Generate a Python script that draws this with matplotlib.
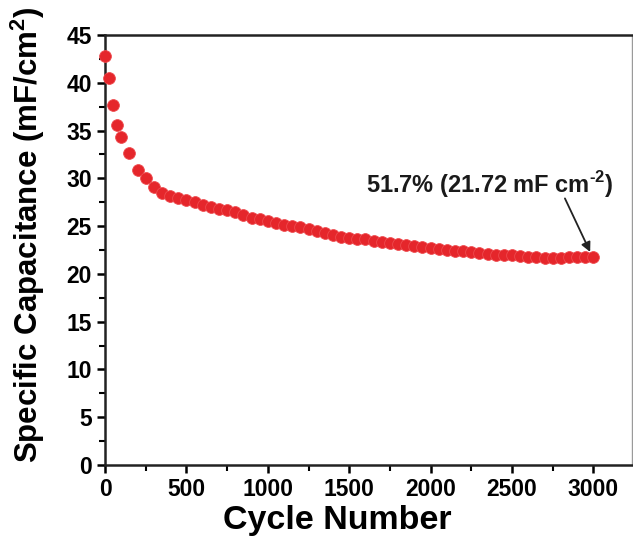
import matplotlib
matplotlib.use('Agg')
import matplotlib.pyplot as plt
from matplotlib.ticker import MultipleLocator

cycles = [1, 25, 50, 75, 100] + list(range(150, 3001, 50))
capacitance = [42.8, 40.5, 37.7, 35.6, 34.3,
               32.6, 30.9, 30.0, 29.1, 28.5, 28.2, 27.9, 27.7, 27.5, 27.2,
               27.0, 26.8, 26.7, 26.5, 26.2, 25.9, 25.7, 25.5, 25.3, 25.1,
               25.0, 24.9, 24.7, 24.5, 24.3, 24.1, 23.9, 23.8, 23.7, 23.6,
               23.4, 23.3, 23.2, 23.1, 23.0, 22.9, 22.8, 22.7, 22.6, 22.5,
               22.4, 22.35, 22.3, 22.2, 22.1, 22.0, 22.0, 21.95, 21.9, 21.8,
               21.75, 21.7, 21.65, 21.7, 21.72, 21.75, 21.72, 21.72]
x_ticks = [0, 500, 1000, 1500, 2000, 2500, 3000]
y_ticks = [0, 5, 10, 15, 20, 25, 30, 35, 40, 45]

plt.rcParams['font.family'] = ['Liberation Sans', 'DejaVu Sans']
plt.rcParams['font.weight'] = 'bold'
plt.rcParams['mathtext.fontset'] = 'custom'
plt.rcParams['mathtext.rm'] = 'Liberation Sans:bold'
plt.rcParams['mathtext.bf'] = 'Liberation Sans:bold'

fig = plt.figure(figsize=(6.33, 5.40), dpi=100)
ax = fig.add_axes([105 / 633, 1 - 465 / 540, (632 - 105) / 633, (465 - 35) / 540])

ax.scatter(cycles, capacitance, s=72, color='#e5262b', edgecolors='#ee4a4e',
           linewidths=0.6, zorder=3, clip_on=False)

ax.set_xlim(0, 3237)
ax.set_ylim(0, 45)
ax.set_xticks(x_ticks)
ax.set_yticks(y_ticks)
ax.xaxis.set_minor_locator(MultipleLocator(250))
ax.yaxis.set_minor_locator(MultipleLocator(2.5))
ax.tick_params(which='major', direction='out', length=6, width=1.8, labelsize=16.5)
ax.tick_params(which='minor', direction='out', length=4, width=1.5)
for lbl in ax.get_xticklabels() + ax.get_yticklabels():
    lbl.set_fontweight('bold')

for side in ['left', 'bottom', 'top']:
    ax.spines[side].set_linewidth(1.8)
    ax.spines[side].set_color('#222222')
ax.spines['right'].set_linewidth(1.0)
ax.spines['right'].set_color('#9a9a9a')

ax.set_xlabel('Cycle Number', fontsize=24.5, fontweight='bold')
ax.xaxis.set_label_coords(0.44, -0.093)
ax.set_ylabel('Specific Capacitance (mF/cm$^{\\mathbf{2}}$)', fontsize=22.5,
              fontweight='bold')
ax.yaxis.set_label_coords(-0.11, 0.535)

ax.text(2365, 29.4, '51.7% (21.72 mF cm$^{\\mathbf{\u2010 2}}$)', ha='center',
        va='center', fontsize=17, fontweight='bold', color='#1a1a1a')
ax.annotate('', xy=(2980, 22.3), xytext=(2825, 27.9),
            arrowprops=dict(arrowstyle='-|>', color='#222222', lw=1.3,
                            shrinkA=0, shrinkB=0, mutation_scale=14))

plt.savefig('out.png', dpi=100)
